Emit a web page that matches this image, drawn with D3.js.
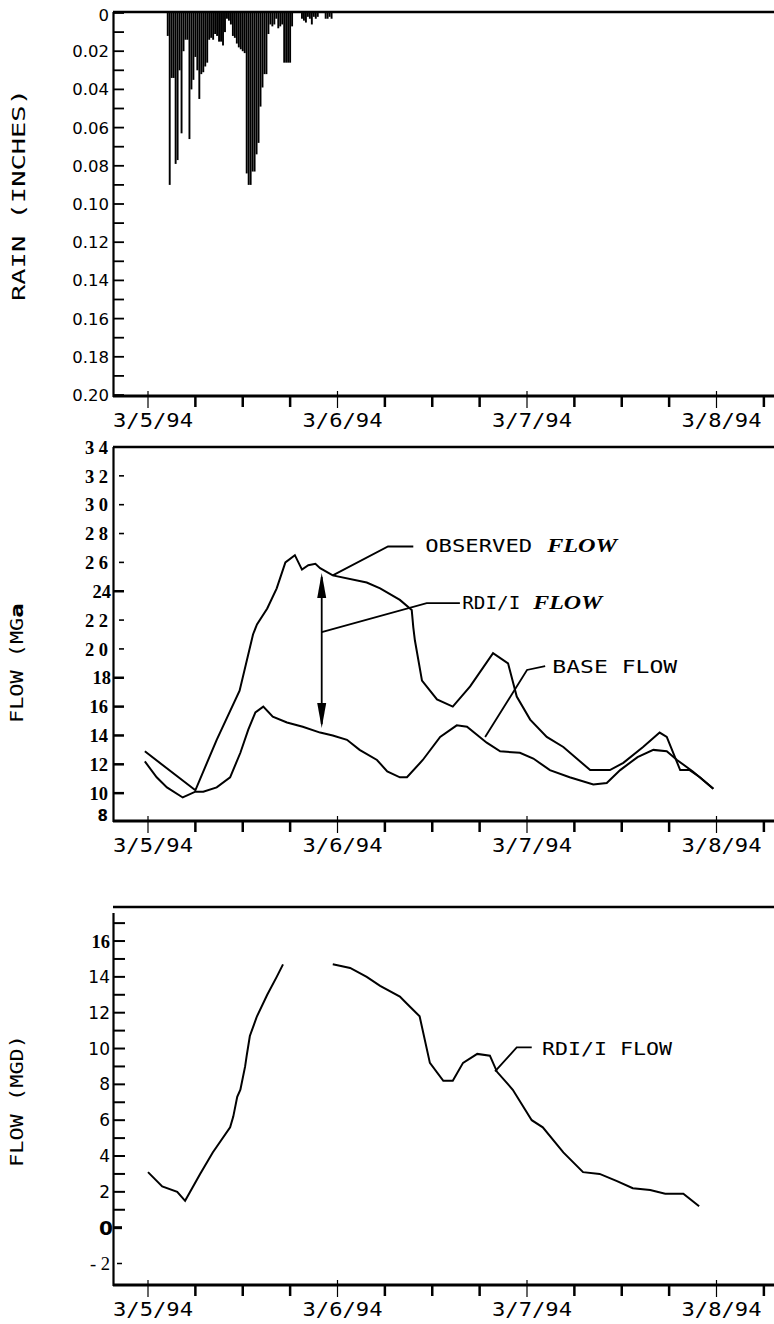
<!DOCTYPE html>
<html><head><meta charset="utf-8">
<script src="https://cdn.jsdelivr.net/npm/d3@7"></script>
<style>body{margin:0;background:#fff}svg{display:block}</style>
</head><body>
<svg id="c" width="774" height="1324"></svg>
<script>
// ---------------- DATA ----------------
// time is in hours after 3/5/94 00:00
const rainStartHour = 2.5;
const rainStepHours = 0.25;
const rainInches = [0.012,0.09,0.034,0.034,0.079,0.077,0.03,0.063,0.02,0.014,
  0.014,0.066,0.04,0.035,0.023,0.03,0.045,0.032,0.031,0.028,
  0.026,0.014,0.013,0.014,0.011,0.012,0.015,0.015,0.017,0.01,
  0.003,0.004,0.006,0.012,0.013,0.016,0.018,0.019,0.02,0.021,
  0.084,0.09,0.09,0.083,0.083,0.074,0.068,0.049,0.039,0.032,
  0.032,0.011,0.006,0.007,0.006,0.003,0.008,0.007,0.006,0.026,
  0.026,0.026,0.026,0.007,0,0,0,0,0.003,0.004,
  0.005,0.002,0.003,0.006,0.002,0.003,0.002,0,0,0,
  0.003,0.003,0.002,0.003];

const observedHours = [-0.4,6.0,8.7,11.6,13.3,13.8,15.1,16.3,17.4,18.6,19.5,20.3,21.2,21.8,23.4,27.7,29.4,31.9,33.4,33.6,33.8,34.7,36.6,38.6,40.8,43.7,45.6,46.7,48.4,50.5,52.6,56.0,58.5,60.2,62.7,64.8,65.7,67.4,68.6,69.9,71.6];
const observedFlow  = [12.9,10.2,13.7,17.1,21.0,21.7,22.8,24.2,26.0,26.5,25.5,25.8,25.9,25.6,25.1,24.6,24.2,23.4,22.7,21.5,20.6,17.8,16.5,16.0,17.4,19.7,19.0,16.7,15.1,13.9,13.2,11.6,11.6,12.1,13.2,14.2,13.9,11.6,11.6,11.1,10.3];

const baseHours = [-0.4,1.1,2.4,4.4,6.0,7.0,8.7,10.4,11.7,12.7,13.6,14.6,15.8,17.6,19.6,21.8,23.4,25.2,26.8,29.0,30.3,31.9,32.8,34.8,37.0,39.1,40.4,42.9,44.6,47.1,48.8,50.9,53.4,56.4,58.1,59.8,62.0,64.0,65.7,67.0,69.0,71.6];
const baseFlow  = [12.2,11.1,10.4,9.7,10.1,10.1,10.4,11.1,12.8,14.4,15.6,16.0,15.3,14.9,14.6,14.2,14.0,13.7,13.0,12.3,11.5,11.1,11.1,12.3,13.9,14.7,14.6,13.5,12.9,12.8,12.4,11.6,11.1,10.6,10.7,11.6,12.5,13.0,12.9,12.3,11.5,10.3];

// null = gap in the plotted RDI/I curve
const rdiHours = [0,1.8,3.7,4.7,6.6,8.2,10.4,10.8,11.3,11.7,12.3,12.5,12.9,13.8,15.1,16.3,17.1,20.0,23.4,25.6,27.7,29.4,31.9,32.8,34.4,35.7,37.4,38.6,39.9,41.7,43.3,44.2,46.2,48.6,50.0,52.6,55.1,57.2,59.4,61.4,63.6,65.5,67.8,69.8];
const rdiFlow  = [3.1,2.3,2.0,1.5,3.0,4.2,5.6,6.2,7.3,7.7,9.0,9.6,10.7,11.8,13.0,14.0,14.7,null,14.7,14.5,14.0,13.5,12.9,12.5,11.8,9.2,8.2,8.2,9.2,9.7,9.6,8.7,7.7,6.0,5.6,4.2,3.1,3.0,2.6,2.2,2.1,1.9,1.9,1.2];

const dayHours  = [0,24,48,72];
const dayLabels = ["3/5/94","3/6/94","3/7/94","3/8/94"];
const minorTickHours = [6,12,18,30,36,42,54,60,66,78];

const rainTickValues = d3.range(0,21).map(i=>i/100);
const rainTickLabels = ["0","0.02","0.04","0.06","0.08","0.10","0.12","0.14","0.16","0.18","0.20"];
const flowTickValues = [8,10,12,14,16,18,20,22,24,26,28,30,32,34];
const flowTickLabels = ["8","10","12","14","16","18","2 0","2 2","24","2 6","2 8","3 0","3 2","3 4"];
const rdiTickValues  = [-2,0,2,4,6,8,10,12,14,16];
const rdiTickLabels  = ["- 2","0","2","4","6","8","10","12","14","16"];
const rdiMinorValues = [1,3,5,7,9,11,13,15,17];

// annotation anchors (hours, flow)
const arrowAnn = {h:22.0, from:25.26, to:14.51};

// ---------------- DRAW ----------------
const svg = d3.select("#c");
const X0 = 113, X1 = 774;
const x = d3.scaleLinear().domain([0,72]).range([148,716.5]);
const mono = "'DejaVu Sans Mono', monospace";
const sans = "'DejaVu Sans', sans-serif";
const serif = "'Liberation Serif', 'DejaVu Serif', serif";

function xAxis(axisY){
  svg.append("line").attr("x1",X0).attr("x2",X1).attr("y1",axisY).attr("y2",axisY)
    .attr("stroke","#000").attr("stroke-width",3);
  svg.selectAll(null).data(dayHours).enter().append("line")
    .attr("x1",d=>x(d)).attr("x2",d=>x(d)).attr("y1",axisY-5).attr("y2",axisY+12)
    .attr("stroke","#000").attr("stroke-width",1.2);
  svg.selectAll(null).data(minorTickHours).enter().append("line")
    .attr("x1",d=>x(d)).attr("x2",d=>x(d)).attr("y1",axisY).attr("y2",axisY+11)
    .attr("stroke","#000").attr("stroke-width",2.5);
  svg.selectAll(null).data(dayLabels).enter().append("text")
    .attr("x",(d,i)=>x(dayHours[i])+5).attr("y",axisY+31)
    .attr("text-anchor","middle").attr("font-family",mono).attr("font-size",20)
    .attr("textLength",80).attr("lengthAdjust","spacingAndGlyphs").text(d=>d);
}
function topLine(y){
  svg.append("line").attr("x1",X0).attr("x2",X1).attr("y1",y).attr("y2",y)
    .attr("stroke","#000").attr("stroke-width",2.5);
}
function yLine(y1,y2){
  svg.append("line").attr("x1",X0+0.5).attr("x2",X0+0.5).attr("y1",y1).attr("y2",y2)
    .attr("stroke","#000").attr("stroke-width",2.2);
}
function yTitle(parts, cx, cy, len){
  const t = svg.append("text").attr("transform",`translate(${cx},${cy}) rotate(-90)`)
    .attr("text-anchor","middle").attr("font-family",mono).attr("font-size",18)
    .attr("dy","0.35em");
  parts.forEach(p=>{
    const s = t.append("tspan").text(p.t);
    if(p.bold) s.attr("font-weight","bold").attr("font-family",sans);
  });
  if(len) t.attr("textLength",len).attr("lengthAdjust","spacingAndGlyphs");
}

// ===== Panel 1: rain =====
const yRain = d3.scaleLinear().domain([0,0.2]).range([13,395]);
topLine(12);
yLine(12,397);
xAxis(396);
svg.selectAll(null).data(rainTickValues).enter().append("line")
  .attr("x1",X0).attr("x2",X0+11).attr("y1",d=>yRain(d)).attr("y2",d=>yRain(d))
  .attr("stroke","#000").attr("stroke-width",1.8);
svg.selectAll(null).data(rainTickLabels).enter().append("text")
  .attr("x",109).attr("y",(d,i)=>yRain(i*0.02)+ (i===0?2:0)).attr("dy","0.36em")
  .attr("text-anchor","end").attr("font-family",sans).attr("font-size",16.5)
  .text(d=>d);
const rainData = rainInches.map((v,i)=>({h:rainStartHour+i*rainStepHours, v}));
svg.selectAll(null).data(rainData.filter(d=>d.v>0)).enter().append("rect")
  .attr("x",d=>x(d.h)-0.95).attr("width",1.9)
  .attr("y",yRain(0)).attr("height",d=>yRain(d.v)-yRain(0)).attr("fill","#000");
yTitle([{t:"RAIN (INCHES)"}],19,195,212);

// ===== Panel 2: flow =====
const yFlow = d3.scaleLinear().domain([8,34]).range([822,447]);
topLine(447);
yLine(447,822);
xAxis(821);
flowTickValues.forEach((v,i)=>{
  if(v===34 || v===8) return;
  const full = (v<=18 || v===24);
  svg.append("line").attr("x1",full?X0:X0+6).attr("x2",X0+11)
    .attr("y1",yFlow(v)).attr("y2",yFlow(v)).attr("stroke","#000").attr("stroke-width",full?2.5:1.6);
});
svg.selectAll(null).data(flowTickLabels).enter().append("text")
  .attr("x",(d,i)=>flowTickValues[i]===8?108:(flowTickValues[i]===18||flowTickValues[i]===24?111:108))
  .attr("y",(d,i)=>flowTickValues[i]===8?yFlow(8)-6:yFlow(flowTickValues[i]))
  .attr("dy","0.36em").attr("text-anchor","end")
  .attr("font-family",(d,i)=>flowTickValues[i]===8?sans:serif)
  .attr("font-weight","bold").attr("font-size",(d,i)=>flowTickValues[i]===8?15:18.5)
  .text(d=>d);

const lineFlow = d3.line().x(d=>x(d.h)).y(d=>yFlow(d.v));
svg.append("path").datum(observedHours.map((h,i)=>({h,v:observedFlow[i]})))
  .attr("d",lineFlow).attr("fill","none").attr("stroke","#000").attr("stroke-width",2);
svg.append("path").datum(baseHours.map((h,i)=>({h,v:baseFlow[i]})))
  .attr("d",lineFlow).attr("fill","none").attr("stroke","#000").attr("stroke-width",2);

// double arrow
const ax = x(arrowAnn.h), aTop = yFlow(arrowAnn.from), aBot = yFlow(arrowAnn.to);
svg.append("line").attr("x1",ax).attr("x2",ax).attr("y1",aTop+4).attr("y2",aBot-4)
  .attr("stroke","#000").attr("stroke-width",1.8);
svg.append("path").attr("d",`M${ax},${aTop} L${ax-4.5},${aTop+25} L${ax+4.5},${aTop+25} Z`).attr("fill","#000");
svg.append("path").attr("d",`M${ax},${aBot} L${ax-4.5},${aBot-25} L${ax+4.5},${aBot-25} Z`).attr("fill","#000");

// leaders (hours, flow)
function leader(pts, yS){
  svg.append("path").datum(pts).attr("d",d3.line().x(d=>x(d[0])).y(d=>yS(d[1])))
    .attr("fill","none").attr("stroke","#000").attr("stroke-width",1.8);
}
leader([[23.4,25.1],[30.4,27.1],[33.6,27.1]], yFlow);
leader([[22.0,21.17],[35.3,23.18],[39.5,23.18]], yFlow);
leader([[42.7,13.89],[48.0,18.54],[50.3,18.81]], yFlow);

function annText(parts, hx, v, yS){
  let xx = x(hx);
  parts.forEach(p=>{
    svg.append("text").attr("x",xx).attr("y",yS(v))
      .attr("font-family",p.bi?serif:mono).attr("font-size",p.bi?19:18)
      .attr("font-weight",p.bi?"bold":"normal").attr("font-style",p.bi?"italic":"normal")
      .attr("textLength",p.len).attr("lengthAdjust","spacingAndGlyphs").text(p.t);
    xx += p.len + p.gap;
  });
}
annText([{t:"OBSERVED",len:107,gap:15},{t:"FLOW",bi:true,len:70,gap:0}], 35.1, yFlow.invert(552), yFlow);
annText([{t:"RDI/I",len:58,gap:13},{t:"FLOW",bi:true,len:69,gap:0}], 39.8, yFlow.invert(609), yFlow);
annText([{t:"BASE FLOW",len:125,gap:0}], 51.2, yFlow.invert(673), yFlow);
yTitle([{t:"FLOW (MG"},{t:"a",bold:true}],17,663,120);

// ===== Panel 3: RDI/I =====
const yRdi = d3.scaleLinear().domain([-3.2,17.9]).range([1285,907]);
topLine(907);
yLine(913,1286);
xAxis(1285);
rdiMinorValues.concat(rdiTickValues.filter(v=>v>0)).forEach(v=>{
  svg.append("line").attr("x1",X0).attr("x2",X0+12).attr("y1",yRdi(v)).attr("y2",yRdi(v))
    .attr("stroke","#000").attr("stroke-width",2);
});
svg.append("line").attr("x1",X0).attr("x2",X0+9).attr("y1",yRdi(0)).attr("y2",yRdi(0))
  .attr("stroke","#000").attr("stroke-width",3);
svg.append("line").attr("x1",X0+4).attr("x2",X0+9).attr("y1",yRdi(-2)).attr("y2",yRdi(-2))
  .attr("stroke","#000").attr("stroke-width",1.5);
svg.selectAll(null).data(rdiTickLabels).enter().append("text")
  .attr("x",(d,i)=>rdiTickValues[i]===0?113:110).attr("y",(d,i)=>yRdi(rdiTickValues[i]))
  .attr("dy","0.36em").attr("text-anchor","end")
  .attr("font-family",(d,i)=>[16,-2].includes(rdiTickValues[i])?serif:sans)
  .attr("font-weight",(d,i)=>[16,0].includes(rdiTickValues[i])?"bold":"normal")
  .attr("font-size",(d,i)=>rdiTickValues[i]===0?20:([16,-2].includes(rdiTickValues[i])?18.5:17))
  .text(d=>d);

const lineRdi = d3.line().defined(d=>d.v!=null).x(d=>x(d.h)).y(d=>yRdi(d.v));
svg.append("path").datum(rdiHours.map((h,i)=>({h,v:rdiFlow[i]})))
  .attr("d",lineRdi).attr("fill","none").attr("stroke","#000").attr("stroke-width",2);
leader([[43.95,8.72],[46.7,10.06],[48.6,10.06]], yRdi);
annText([{t:"RDI/I FLOW",len:130,gap:0}], 49.9, yRdi.invert(1055), yRdi);
yTitle([{t:"FLOW (MGD)"}],17,1101,132);
</script>
</body></html>
